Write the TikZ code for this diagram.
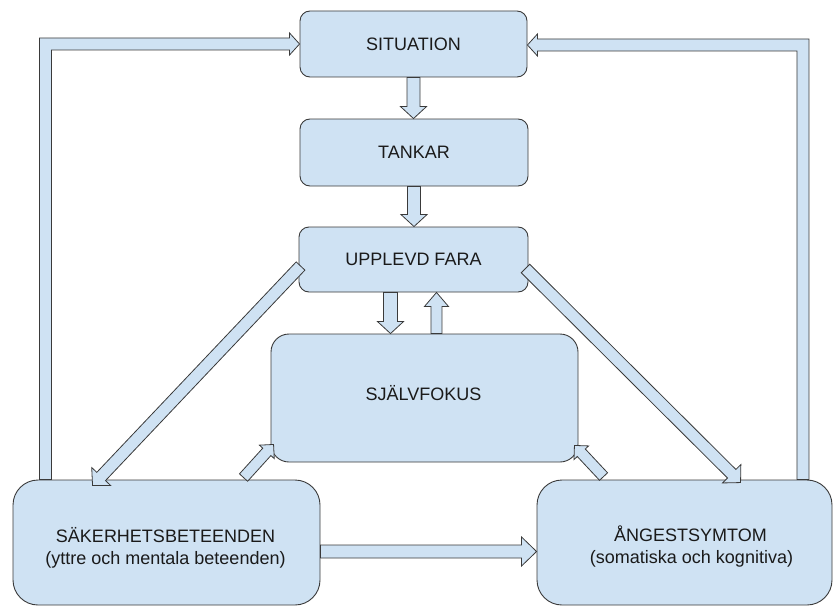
\documentclass[tikz,border=0pt]{standalone}
\usepackage{fontspec}
\setmainfont{Liberation Sans}
\usetikzlibrary{calc}
\definecolor{boxfill}{HTML}{CFE2F3}
\definecolor{boxline}{HTML}{3A3A3A}
\definecolor{txt}{HTML}{1A1A1A}
\tikzset{
  box/.style={draw=boxline, fill=boxfill, line width=0.9pt, rounded corners=10pt, inner sep=0pt, text=txt},
  barrowstyle/.style={draw=boxline, fill=boxfill, line width=0.8pt, line join=miter},
  lbl/.style={anchor=base, text=txt, inner sep=0pt}
}
% start, tip, shaft half width, head half width, head length
\newcommand\blockarrow[5]{%
  \coordinate (ba-h) at ($(#2)!#5!(#1)$);
  \filldraw[barrowstyle] ($(#1)!#3!90:(#2)$) -- ($(ba-h)!#3!90:(#2)$) -- ($(ba-h)!#4!90:(#2)$) -- (#2) -- ($(ba-h)!#4!-90:(#2)$) -- ($(ba-h)!#3!-90:(#2)$) -- ($(#1)!#3!-90:(#2)$) -- cycle;}
\begin{document}
\begin{tikzpicture}[x=1pt, y=-1pt, font=\fontsize{18}{22}\selectfont]
\clip (0,0) rectangle (834,607);
% boxes
\node[box, minimum width=227pt, minimum height=66pt] (sit) at (413.5,44) {SITUATION};
\node[box, minimum width=228pt, minimum height=67pt] (tank) at (414,152.5) {TANKAR};
\node[box, minimum width=229pt, minimum height=65pt] (fara) at (413.5,259.5) {UPPLEVD FARA};
\node[box, minimum width=307pt, minimum height=128pt, rounded corners=18pt] (fokus) at (424.5,398) {};
\node[box, minimum width=307pt, minimum height=125pt, rounded corners=25pt] (saker) at (166.5,542.5) {};
\node[box, minimum width=295pt, minimum height=125pt, rounded corners=25pt] (ang) at (684.5,542.5) {};
% labels
\node[lbl] (fokustxt) at ($(fokus.center)+(-1,2)$) {SJÄLVFOKUS};
\node[lbl] (saker1) at ($(saker.center)+(-1,0)$) {SÄKERHETSBETEENDEN};
\node[lbl] (saker2) at ($(saker.center)+(-1,22)$) {(yttre och mentala beteenden)};
\node[lbl] (ang1) at ($(ang.center)+(6,-1)$) {ÅNGESTSYMTOM};
\node[lbl] (ang2) at ($(ang.center)+(7,21)$) {(somatiska och kognitiva)};
% vertical arrows
\coordinate (t1) at (sit.south);
\coordinate (t2) at (t1 |- tank.north);
\blockarrow{t1}{t2}{6.5pt}{13pt}{12pt}
\coordinate (f1) at (tank.south);
\coordinate (f2) at (f1 |- fara.north);
\blockarrow{f1}{f2}{6.5pt}{13pt}{12pt}
\coordinate (d1) at ($(fara.south west)!0.4!(fara.south east)$);
\coordinate (d2) at (d1 |- fokus.north);
\blockarrow{d1}{d2}{7pt}{13pt}{12pt}
\coordinate (u1) at ($(fara.south west)!0.6!(fara.south east)$);
\coordinate (u2) at (u1 |- fokus.north);
\blockarrow{u2}{u1}{5.5pt}{12pt}{14pt}
% diagonal arrows
\coordinate (fl) at ($(fara.west)+(2,6.5)$);
\coordinate (sl) at ($(saker.north west)+(80,6)$);
\blockarrow{fl}{sl}{6pt}{13pt}{12.5pt}
\coordinate (fr) at ($(fara.east)+(-3,9)$);
\coordinate (ar) at ($(ang.north west)+(204,3)$);
\blockarrow{fr}{ar}{6pt}{13pt}{12.5pt}
% small arrows into self-focus
\coordinate (s1) at ($(saker.north west)+(231,-2)$);
\coordinate (s2) at ($(fokus.south west)+(3,-18)$);
\blockarrow{s1}{s2}{5.5pt}{10pt}{10pt}
\coordinate (a1) at ($(ang.north west)+(67,-3)$);
\coordinate (a2) at ($(fokus.south east)+(-4,-17)$);
\blockarrow{a1}{a2}{5.5pt}{10pt}{10pt}
% horizontal arrow
\coordinate (h1) at ($(saker.east)+(0,9)$);
\coordinate (h2) at (ang.west |- h1);
\blockarrow{h1}{h2}{6.5pt}{14.5pt}{15pt}
% left loop
\coordinate (lt) at (sit.west);
\coordinate (lb) at ($(saker.north west)+(33,0)$);
\filldraw[barrowstyle] ($(lb)+(-6,0)$) -- ($(lb |- lt)+(-6,-6)$) -- ($(lt)+(-10,-6)$) -- ($(lt)+(-10,-11)$) -- (lt) -- ($(lt)+(-10,11)$) -- ($(lt)+(-10,6)$) -- ($(lb |- lt)+(6,6)$) -- ($(lb)+(6,0)$) -- cycle;
% right loop
\coordinate (rt) at ($(sit.east)+(0,1)$);
\coordinate (rb) at ($(ang.north east)+(-29.5,0)$);
\filldraw[barrowstyle] ($(rb)+(6,0)$) -- ($(rb |- rt)+(6,-6)$) -- ($(rt)+(10,-6)$) -- ($(rt)+(10,-11)$) -- (rt) -- ($(rt)+(10,11)$) -- ($(rt)+(10,6)$) -- ($(rb |- rt)+(-6,6)$) -- ($(rb)+(-6,0)$) -- cycle;
\end{tikzpicture}
\end{document}
